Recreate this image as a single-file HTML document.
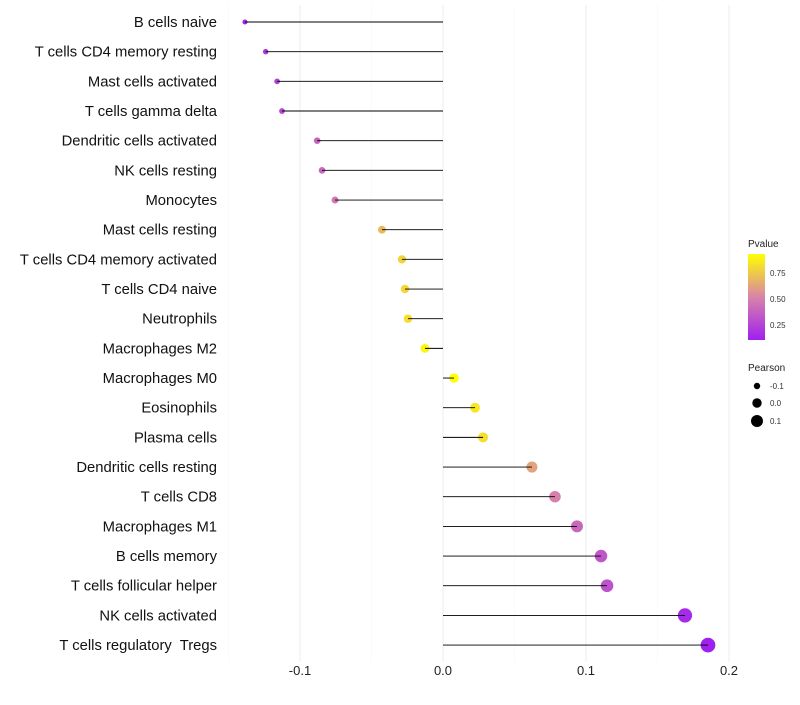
<!DOCTYPE html>
<html><head><meta charset="utf-8"><style>
body{margin:0;background:#fff;font-family:"Liberation Sans",sans-serif;}
text{white-space:pre;}
</style></head><body>
<svg id="chart" width="800" height="700" xmlns="http://www.w3.org/2000/svg">
<g id="grid"></g><g id="pts"></g><g id="marks"></g><g id="ylabels"></g><g id="xlabels"></g>
<g id="legend">
<defs><linearGradient id="pg" x1="0" y1="1" x2="0" y2="0">
<stop offset="0" stop-color="#a020f0"/><stop offset="0.5" stop-color="#d884a8"/><stop offset="1" stop-color="#ffff00"/></linearGradient></defs>
<text x="748" y="247" font-size="10" fill="#222">Pvalue</text>
<rect x="748" y="254" width="17" height="86" fill="url(#pg)"/>
<text x="770" y="276" font-size="8" fill="#333">0.75</text>
<text x="770" y="302" font-size="8" fill="#333">0.50</text>
<text x="770" y="328" font-size="8" fill="#333">0.25</text>
<text x="748" y="371" font-size="10" fill="#222">Pearson</text>
<circle cx="757" cy="386" r="3.2" fill="#000"/><text x="770" y="389" font-size="8" fill="#333">-0.1</text>
<circle cx="757" cy="403" r="4.7" fill="#000"/><text x="770" y="406" font-size="8" fill="#333">0.0</text>
<circle cx="757" cy="421" r="6" fill="#000"/><text x="770" y="424" font-size="8" fill="#333">0.1</text>
</g>
</svg>
<script>
const categories=["B cells naive","T cells CD4 memory resting","Mast cells activated","T cells gamma delta","Dendritic cells activated","NK cells resting","Monocytes","Mast cells resting","T cells CD4 memory activated","T cells CD4 naive","Neutrophils","Macrophages M2","Macrophages M0","Eosinophils","Plasma cells","Dendritic cells resting","T cells CD8","Macrophages M1","B cells memory","T cells follicular helper","NK cells activated","T cells regulatory  Tregs"];
const pearson=[-0.1385,-0.124,-0.116,-0.1126,-0.088,-0.0846,-0.0755,-0.0427,-0.0287,-0.0266,-0.0245,-0.0126,0.0077,0.0224,0.028,0.0622,0.0783,0.0937,0.1105,0.1147,0.1692,0.1853];
const pvalues=[0.12,0.2,0.24,0.26,0.38,0.4,0.46,0.7,0.78,0.8,0.82,0.9,0.93,0.85,0.82,0.62,0.5,0.4,0.33,0.31,0.14,0.1];
const xTicks=[-0.1,0,0.1,0.2];
const xTickLabels=["-0.1","0.0","0.1","0.2"];
const NS="http://www.w3.org/2000/svg";
const x=v=>443+v*1430;
const y=i=>22+i*29.67;
const rad=r=>4.6+15*r;
function lerp(a,b,t){return a.map((v,k)=>Math.round(v+(b[k]-v)*t));}
function col(p){const t=Math.max(0,Math.min(1,(p-0.1)/0.83));
 const a=[160,32,240],m=[216,132,168],b=[255,255,0];
 const c=t<0.5?lerp(a,m,t*2):lerp(m,b,(t-0.5)*2);return `rgb(${c})`;}
function mk(tag,at,parent){const e=document.createElementNS(NS,tag);for(const k in at)e.setAttribute(k,at[k]);document.getElementById(parent).appendChild(e);return e;}
[-0.15,-0.05,0.05,0.15].forEach(v=>{const g=mk("line",{x1:x(v),x2:x(v),y1:5,y2:662,stroke:"#f5f5f5","stroke-width":0.5},"grid");

});
xTicks.forEach((v,i)=>{const g=mk("line",{x1:x(v),x2:x(v),y1:5,y2:662,stroke:"#ededed","stroke-width":1},"grid");


const t=mk("text",{x:x(v),y:675,"text-anchor":"middle","font-size":13,fill:"#222"},"xlabels");t.textContent=xTickLabels[i];

});
categories.forEach((c,i)=>{
 const p=mk("circle",{cx:x(pearson[i]),cy:y(i),r:rad(pearson[i]),fill:col(pvalues[i])},"pts");
 
 
 const l=mk("line",{x1:x(0),x2:x(pearson[i]),y1:y(i),y2:y(i),stroke:"#000","stroke-width":0.9},"marks");
 
 
 const t=mk("text",{x:217,y:y(i)+5,"text-anchor":"end","font-size":14.8,fill:"#111"},"ylabels");t.textContent=c;
 
 
});
</script>
</body></html>
